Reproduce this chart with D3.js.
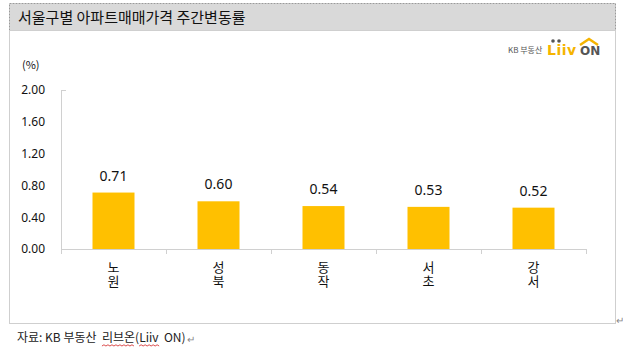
<!DOCTYPE html>
<html><head><meta charset="utf-8">
<script src="https://cdn.jsdelivr.net/npm/d3@7"></script>
<style>
html,body{margin:0;padding:0;background:#fff;}
svg{display:block;font-family:"Noto Sans CJK KR","Noto Sans",sans-serif;}
</style></head>
<body>
<script>
const categories = ["노원","성북","동작","서초","강서"];
const values = [0.71,0.60,0.54,0.53,0.52];
const yTicks = [0,0.4,0.8,1.2,1.6,2.0];
const title = "서울구별 아파트매매가격 주간변동률";
const unit = "(%)";
const sourceParts = ["자료: KB 부동산  ","리브온","(","Liiv","  ON)"];

const W=623,H=358;
const svg=d3.select("body").append("svg").attr("width",W).attr("height",H);

// frame
svg.append("rect").attr("x",9.5).attr("y",3.5).attr("width",606).attr("height",27)
  .attr("fill","#d9d9d9").attr("stroke","#9a9a9a").attr("stroke-dasharray","2,1");
svg.append("rect").attr("x",9.5).attr("y",30.5).attr("width",606).attr("height",293)
  .attr("fill","#fff").attr("stroke","#cfcfcf");
svg.append("text").attr("x",18).attr("y",23).attr("font-size",15).attr("fill","#111").text(title);

// logo
svg.append("text").attr("x",508).attr("y",53).attr("font-size",8).attr("fill","#555").text("KB 부동산");
svg.append("text").attr("x",547).attr("y",55).attr("font-size",14).attr("font-weight",900)
  .attr("font-family","'DejaVu Sans',sans-serif").attr("fill","#f5b400").attr("letter-spacing",0.5).text("Liiv");
svg.append("text").attr("x",580).attr("y",55).attr("font-size",12).attr("font-weight",900)
  .attr("font-family","'DejaVu Sans',sans-serif").attr("fill","#555").text("ON");
svg.append("path").attr("d","M580,45 L589,39 L598,45").attr("fill","none").attr("stroke","#f5b400").attr("stroke-width",2.5);
[553,559].forEach(x=>svg.append("circle").attr("cx",x).attr("cy",41).attr("r",1.8).attr("fill","#555"));

// scales
const x=d3.scaleBand().domain(categories).range([61,586]).paddingInner(0.6).paddingOuter(0.3);
const xb=d3.scaleBand().domain(categories).range([61,586]);
const y=d3.scaleLinear().domain([0,2]).range([249,90]);

svg.append("text").attr("x",22).attr("y",69).attr("font-size",11).attr("fill","#111").text(unit);

// y axis
const ya=svg.append("g").attr("transform","translate(61,0)")
  .call(d3.axisLeft(y).tickValues(yTicks).tickFormat(d3.format(".2f")).tickSize(0).tickPadding(16));
ya.select(".domain").attr("stroke","#d0d0d0");
ya.selectAll("text").attr("font-size",12).attr("fill","#111").attr("font-family","'Noto Sans','Open Sans',sans-serif");
svg.append("line").attr("x1",61).attr("x2",66).attr("y1",y(2)+0.5).attr("y2",y(2)+0.5).attr("stroke","#d0d0d0");

// bars
svg.selectAll("rect.bar").data(values).join("rect").attr("class","bar")
  .attr("x",(d,i)=>x(categories[i])).attr("width",x.bandwidth())
  .attr("y",d=>y(d)).attr("height",d=>y(0)-y(d)).attr("fill","#ffc000");

svg.selectAll("text.val").data(values).join("text").attr("class","val")
  .attr("x",(d,i)=>x(categories[i])+x.bandwidth()/2).attr("y",d=>y(d)-12)
  .attr("text-anchor","middle").attr("font-size",14).attr("fill","#111")
  .attr("font-family","'Noto Sans','Open Sans',sans-serif")
  .text(d=>d.toFixed(2));

// x axis
const xa=svg.append("g").attr("transform","translate(0,249)")
  .call(d3.axisBottom(xb).tickSize(0).tickFormat(""));
xa.select(".domain").attr("stroke","#d0d0d0");
const tickPos=[61].concat(categories.map(c=>xb(c)+xb.bandwidth()));
tickPos.forEach(p=>svg.append("line").attr("x1",p+0.5).attr("x2",p+0.5).attr("y1",249).attr("y2",254).attr("stroke","#d0d0d0"));
categories.forEach(c=>{
  const cx=x(c)+x.bandwidth()/2;
  svg.append("text").attr("x",cx).attr("y",261)
    .style("writing-mode","vertical-rl").style("text-orientation","upright")
    .attr("letter-spacing",1).attr("font-size",13).attr("fill","#111").text(c);
});

// paragraph marks & source
const mark=(px,py)=>svg.append("text").attr("x",px).attr("y",py).attr("font-size",10).attr("fill","#888").text("↵");
mark(616,324);
const src=svg.append("text").attr("x",17).attr("y",342).attr("font-size",12).attr("fill","#222")
  .style("white-space","pre");
const spans=sourceParts.map(p=>src.append("tspan").text(p));
const bb=src.node().getBBox();
mark(bb.x+bb.width+1,343);
// spell-check wavy underline
function wave(x0,x1,yy){let d=`M${x0},${yy}`;let up=true;for(let xx=x0+2;xx<=x1;xx+=2){d+=` L${xx},${yy+(up?-1.2:0)}`;up=!up;}
  svg.append("path").attr("d",d).attr("fill","none").attr("stroke","#d02020").attr("stroke-width",0.8);}
[1,3].forEach(i=>{const n=spans[i].node();const b=n.getBBox();wave(b.x,b.x+b.width,346);});
</script>
</body></html>
